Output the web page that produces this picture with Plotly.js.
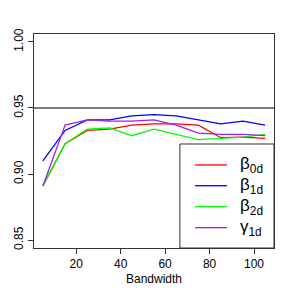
<!DOCTYPE html>
<html><head><meta charset="utf-8">
<script src="https://cdn.plot.ly/plotly-3.0.1.min.js"></script>
<style>body{margin:0;padding:0;background:#fff}#chart{width:291px;height:291px}</style>
</head><body><div id="chart"></div>
<script>
const bandwidth = [5, 15, 25, 35, 45, 55, 65, 75, 85, 95, 105];
const beta0d = [0.891, 0.923, 0.933, 0.934, 0.937, 0.938, 0.938, 0.937, 0.9275, 0.928, 0.927];
const beta1d = [0.910, 0.933, 0.941, 0.941, 0.944, 0.945, 0.944, 0.941, 0.938, 0.940, 0.937];
const beta2d = [0.891, 0.923, 0.934, 0.935, 0.929, 0.934, 0.930, 0.926, 0.927, 0.928, 0.930];
const gamma1d = [0.891, 0.937, 0.941, 0.940, 0.940, 0.941, 0.937, 0.931, 0.930, 0.930, 0.929];
const seriesNames = ['β<sub>0d</sub>', 'β<sub>1d</sub>', 'β<sub>2d</sub>', 'γ<sub>1d</sub>'];
const seriesColors = ['#ff0000', '#0000ff', '#00ff00', '#a020f0'];
const yTicks = [0.85, 0.90, 0.95, 1.00];
const yTickText = ['0.85', '0.90', '0.95', '1.00'];
const xTicks = [20, 40, 60, 80, 100];
const refLine = 0.95;

const allY = [beta0d, beta1d, beta2d, gamma1d];
const traces = allY.map((ys, i) => ({
  x: bandwidth, y: ys, type: 'scatter', mode: 'lines', name: seriesNames[i],
  line: {color: seriesColors[i], width: 1.3}
}));

// legend drawn in paper coordinates
const legRows = [0.388, 0.291, 0.193, 0.095];
const shapes = [
  {type: 'line', xref: 'paper', x0: 0, x1: 1, yref: 'y', y0: refLine, y1: refLine, line: {color: '#000', width: 1.2}},
  {type: 'rect', xref: 'paper', yref: 'paper', x0: 0.608, x1: 1, y0: 0, y1: 0.486, fillcolor: '#fff', line: {color: '#333', width: 1}}
];
const annotations = [];
seriesNames.forEach((n, i) => {
  shapes.push({type: 'line', xref: 'paper', yref: 'paper', x0: 0.671, x1: 0.804, y0: legRows[i], y1: legRows[i], line: {color: seriesColors[i], width: 1.3}});
  annotations.push({xref: 'paper', yref: 'paper', x: 0.852, y: legRows[i], xanchor: 'left', yanchor: 'middle', showarrow: false,
    text: n, font: {size: 17, color: '#000'}});
});

const layout = {
  width: 291, height: 291,
  margin: {l: 34, r: 17, t: 34, b: 43},
  paper_bgcolor: '#fff', plot_bgcolor: '#fff',
  font: {family: 'Liberation Sans, Arial, sans-serif', size: 12, color: '#000'},
  showlegend: false,
  xaxis: {
    range: [1, 109], tickvals: xTicks, ticks: 'outside', ticklen: 5, tickcolor: '#333',
    showgrid: false, zeroline: false, showline: true, mirror: true, linecolor: '#333', linewidth: 1,
    title: {text: 'Bandwidth', font: {size: 12}, standoff: 4}
  },
  yaxis: {
    range: [0.844, 1.006], tickvals: yTicks, ticktext: yTickText, ticks: 'outside', ticklen: 5, tickcolor: '#333',
    tickangle: -90, showgrid: false, zeroline: false, showline: true, mirror: true, linecolor: '#333', linewidth: 1
  },
  shapes: shapes,
  annotations: annotations
};
Plotly.newPlot('chart', traces, layout, {displayModeBar: false, staticPlot: true});
</script></body></html>
